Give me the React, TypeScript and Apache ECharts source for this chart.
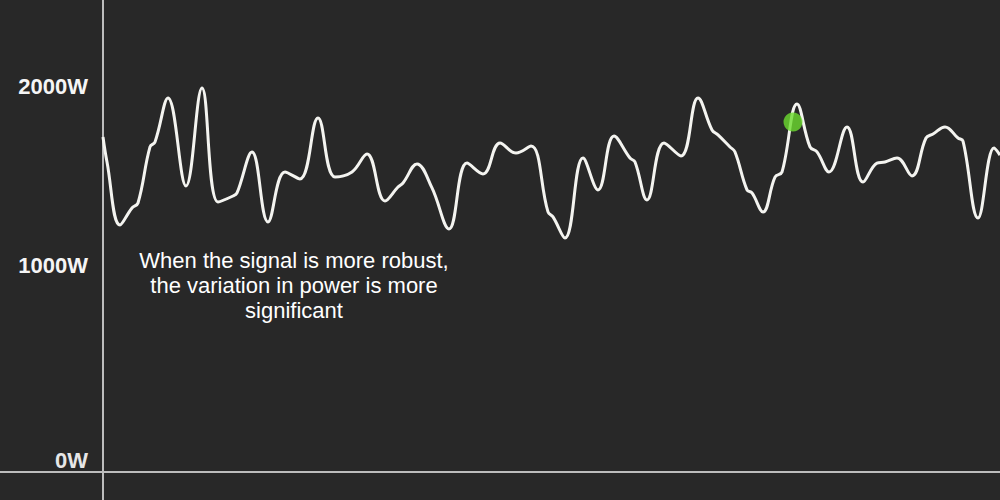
import React, { useEffect, useRef } from "react";
import * as echarts from "echarts";

// time index (samples) and power in watts
const sampleIndex = [
  0, 4, 17, 29, 35, 47, 52, 65, 83, 99, 115, 130, 134, 149, 165, 182, 197, 215, 232, 249,
  264, 282, 295, 300, 314, 329, 346, 364, 380, 397, 413, 428, 445, 450, 462, 480, 495, 511,
  527, 532, 544, 561, 578, 595, 609, 615, 627, 632, 644, 649, 660, 672, 679, 694, 707, 714,
  726, 744, 760, 774, 782, 794, 809, 823, 830, 842, 855, 860, 875, 891, 897,
];
const powerWatts = [
  1721, 1581, 1229, 1324, 1352, 1665, 1693, 1939, 1447, 1994, 1358, 1391, 1408, 1637, 1246,
  1525, 1486, 1827, 1497, 1525, 1626, 1363, 1441, 1464, 1570, 1436, 1207, 1575, 1514, 1687,
  1631, 1670, 1302, 1274, 1156, 1603, 1425, 1726, 1603, 1581, 1369, 1687, 1615, 1939, 1760,
  1732, 1665, 1637, 1425, 1408, 1302, 1497, 1525, 1905, 1665, 1637, 1525, 1777, 1469, 1575,
  1581, 1603, 1503, 1715, 1737, 1777, 1715, 1698, 1268, 1659, 1620,
];
const markerPoint = [690, 1804];
const yTickValues = [0, 1000, 2000];
const annotationLines = [
  "When the signal is more robust,",
  "the variation in power is more",
  "significant",
];

export default function App() {
  const ref = useRef<HTMLDivElement>(null);
  useEffect(() => {
    if (!ref.current) return;
    const chart = echarts.init(ref.current, null, { renderer: "svg" });
    const axisColor = "#bdbdbd";
    chart.setOption({
      animation: false,
      backgroundColor: "#282828",
      grid: { left: 103, right: 0, top: 0, bottom: 28 },
      xAxis: {
        type: "value",
        min: 0,
        max: 897,
        axisLine: { show: true, onZero: false, lineStyle: { color: axisColor, width: 2 } },
        axisTick: { show: false },
        axisLabel: { show: false },
        splitLine: { show: false },
      },
      yAxis: {
        type: "value",
        min: -151,
        max: 2486,
        axisLine: { show: true, lineStyle: { color: axisColor, width: 2 } },
        axisTick: { show: false },
        splitLine: { show: false },
        axisLabel: {
          customValues: yTickValues,
          margin: 15,
          color: "#f5f5f5",
          fontFamily: "Liberation Sans",
          fontWeight: "bold",
          fontSize: 22,
          formatter: (v: number) => (v === 0 ? "{z|0W}" : v + "W"),
          rich: {
            z: {
              color: "#e6e6e6",
              fontFamily: "Liberation Sans",
              fontWeight: "bold",
              fontSize: 22,
              padding: [32, 0, 0, 0],
            },
          },
        },
      },
      series: [
        {
          type: "line",
          data: sampleIndex.map((t, i) => [t, powerWatts[i]]),
          smooth: 0.4,
          showSymbol: false,
          symbol: "none",
          lineStyle: { color: "#f4f4f0", width: 3 },
          z: 2,
        },
        {
          type: "scatter",
          data: [markerPoint],
          symbolSize: 19,
          itemStyle: { color: "#6cdc2e" },
          z: 3,
        },
      ],
      graphic: [
        {
          type: "line",
          shape: { x1: 0, y1: 472, x2: 103, y2: 472 },
          style: { stroke: axisColor, lineWidth: 2 },
        },
        {
          type: "line",
          shape: { x1: 103, y1: 472, x2: 103, y2: 500 },
          style: { stroke: axisColor, lineWidth: 2 },
        },
        {
          type: "text",
          x: 294,
          y: 285,
          style: {
            text: annotationLines.join("\n"),
            fill: "#ffffff",
            fontFamily: "Liberation Sans",
            fontSize: 22,
            lineHeight: 25,
            textAlign: "center",
            textVerticalAlign: "middle",
          },
        },
      ],
    });
    return () => chart.dispose();
  }, []);
  return (
    <div
      ref={ref}
      style={{ position: "fixed", left: 0, top: 0, width: 1000, height: 500 }}
    />
  );
}
